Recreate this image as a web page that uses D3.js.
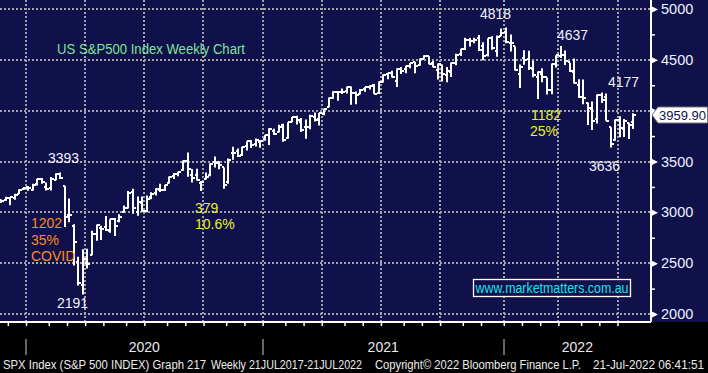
<!DOCTYPE html>
<html>
<head>
<meta charset="utf-8">
<script src="https://cdnjs.cloudflare.com/ajax/libs/d3/7.8.5/d3.min.js"></script>
<style>
  body { margin: 0; background: #000; }
  svg { display: block; }
</style>
</head>
<body>
<div id="chart"></div>
<script>
// weekly bars, first bar = week ending 22 Nov 2019, last = partial week to 20 Jul 2022
const firstWeek = new Date(2019, 10, 22);

const opens = [
  3122, 3117, 3143, 3141, 3183, 3225,
  // 2020
  3247, 3218, 3274, 3323, 3248, 3235, 3318, 3380, 3258, 2974, 2863, 2508, 2290,
  2498, 2578, 2782, 2846, 2854, 2815, 2937, 2914, 3005, 3038, 3199, 3000, 3095,
  3018, 3155, 3191, 3224, 3219, 3289, 3356, 3380, 3419, 3507, 3370, 3364, 3285,
  3326, 3367, 3500, 3493, 3441, 3296, 3583, 3600, 3566, 3654, 3698, 3675, 3694,
  // 2021
  3723, 3764, 3803, 3788, 3857, 3731, 3892, 3939, 3886, 3842, 3844, 3940, 3916,
  3969, 4034, 4124, 4183, 4185, 4192, 4228, 4169, 4168, 4216, 4229, 4248, 4174,
  4284, 4356, 4373, 4296, 4410, 4407, 4437, 4474, 4450, 4513, 4535, 4469, 4402,
  4450, 4348, 4385, 4471, 4553, 4610, 4697, 4689, 4712, 4640, 4548, 4710, 4587, 4733,
  // 2022
  4778, 4665, 4632, 4357, 4519, 4505, 4412, 4333, 4363, 4329, 4203, 4462, 4541,
  4548, 4474, 4385, 4255, 4131, 4076, 4013, 3919, 4152, 4134, 3838, 3715, 3913,
  3816, 3880, 3884
];
const highs = [
  3127, 3154, 3150, 3182, 3226, 3248,
  3259, 3282, 3330, 3337, 3293, 3347, 3385, 3393, 3260, 3136, 2882, 2563, 2637,
  2641, 2818, 2880, 2868, 2965, 2932, 2945, 2981, 3068, 3211, 3233, 3156, 3155,
  3165, 3198, 3238, 3280, 3272, 3352, 3387, 3399, 3509, 3588, 3426, 3429, 3308,
  3393, 3482, 3550, 3502, 3441, 3529, 3646, 3628, 3644, 3699, 3712, 3726, 3712,
  3760, 3827, 3823, 3861, 3871, 3887, 3937, 3950, 3928, 3914, 3960, 3983, 3978,
  4020, 4130, 4191, 4194, 4218, 4238, 4237, 4188, 4214, 4234, 4249, 4262, 4286,
  4356, 4372, 4393, 4415, 4429, 4441, 4469, 4480, 4513, 4545, 4536, 4488, 4465,
  4455, 4429, 4475, 4560, 4608, 4718, 4714, 4718, 4744, 4672, 4713, 4731, 4740, 4808,
  4818, 4749, 4632, 4453, 4595, 4590, 4490, 4385, 4416, 4327, 4465, 4546, 4637,
  4593, 4471, 4513, 4308, 4307, 4081, 4090, 4158, 4178, 4169, 3838, 3914, 3946,
  3919, 3881, 3974
];
const lows = [
  3091, 3115, 3070, 3124, 3180, 3222,
  3213, 3214, 3264, 3280, 3214, 3214, 3316, 3328, 2855, 2902, 2478, 2281, 2192,
  2447, 2579, 2721, 2727, 2816, 2798, 2767, 2902, 2999, 3038, 2985, 2966, 3007,
  3000, 3128, 3165, 3200, 3209, 3284, 3329, 3354, 3410, 3349, 3294, 3313, 3209,
  3323, 3354, 3441, 3424, 3233, 3280, 3518, 3544, 3555, 3609, 3633, 3648, 3636,
  3703, 3663, 3760, 3785, 3694, 3725, 3885, 3865, 3789, 3723, 3817, 3894, 3853,
  3955, 4034, 4118, 4098, 4164, 4168, 4057, 4062, 4158, 4185, 4208, 4165, 4165,
  4278, 4309, 4327, 4234, 4360, 4368, 4417, 4367, 4442, 4511, 4456, 4427, 4306,
  4288, 4279, 4330, 4447, 4537, 4596, 4630, 4662, 4586, 4495, 4532, 4600, 4531, 4733,
  4662, 4582, 4395, 4222, 4451, 4401, 4328, 4115, 4279, 4158, 4161, 4424, 4517,
  4450, 4381, 4267, 4124, 4062, 3859, 3810, 3875, 4075, 3901, 3637, 3703, 3739,
  3742, 3722, 3819
];
const closes = [
  3110, 3141, 3146, 3169, 3221, 3240,
  3235, 3265, 3330, 3295, 3226, 3328, 3380, 3338, 2954, 2972, 2711, 2305, 2541,
  2489, 2790, 2875, 2837, 2831, 2930, 2864, 2955, 3044, 3194, 3041, 3098, 3009,
  3130, 3185, 3225, 3216, 3271, 3351, 3373, 3397, 3508, 3427, 3341, 3319, 3298,
  3348, 3477, 3484, 3465, 3270, 3510, 3585, 3558, 3638, 3699, 3663, 3709, 3703,
  3756, 3824, 3768, 3841, 3714, 3887, 3934, 3907, 3811, 3842, 3943, 3913, 3975,
  4020, 4129, 4185, 4180, 4181, 4233, 4174, 4156, 4204, 4230, 4247, 4166, 4281,
  4352, 4370, 4327, 4412, 4395, 4437, 4468, 4442, 4509, 4535, 4458, 4432, 4455,
  4357, 4391, 4471, 4545, 4605, 4697, 4682, 4698, 4595, 4538, 4712, 4620, 4726, 4766,
  4677, 4663, 4398, 4432, 4500, 4419, 4349, 4385, 4329, 4204, 4463, 4543, 4546,
  4488, 4393, 4272, 4132, 4123, 4024, 3901, 4158, 4109, 3901, 3675, 3912, 3825,
  3899, 3863, 3959.90
];
const lastPrice = "3959.90";

const yTicks = [2000, 2500, 3000, 3500, 4000, 4500, 5000];
const yMinorTicks = [2250, 2750, 3250, 3750, 4250, 4750];

const notes = [
  { text: "US S&P500 Index Weekly Chart", x: 57, y: 54, color: "#7fe39a", w: 188 },
  { text: "3393", x: 48, y: 163, color: "#eef0ff" },
  { text: "1202", x: 31, y: 228, color: "#ff8a1c" },
  { text: "35%", x: 31, y: 245, color: "#ff8a1c" },
  { text: "COVID", x: 31, y: 261, color: "#ff8a1c" },
  { text: "2191", x: 57, y: 308, color: "#eef0ff" },
  { text: "379", x: 195, y: 213, color: "#e8f02a" },
  { text: "10.6%", x: 195, y: 229, color: "#e8f02a" },
  { text: "4818", x: 480, y: 19, color: "#eef0ff" },
  { text: "4637", x: 557, y: 40, color: "#eef0ff" },
  { text: "4177", x: 608, y: 87, color: "#eef0ff" },
  { text: "1182", x: 531, y: 120, color: "#e8f02a" },
  { text: "25%", x: 530, y: 136, color: "#e8f02a" },
  { text: "3636", x: 589, y: 171, color: "#eef0ff" }
];

const footer = [
  { text: "SPX Index (S&P 500 INDEX) Graph 217", x: 3, w: 203 },
  { text: "Weekly 21JUL2017-21JUL2022", x: 211, w: 151 },
  { text: "Copyright\u00a9 2022 Bloomberg Finance L.P.", x: 375, w: 206 },
  { text: "21-Jul-2022 06:41:51", x: 593, w: 111 }
];

const width = 708, height = 373;
const plotRight = 651, plotBottom = 322;
const navy = "#10104a";
const font = "'Liberation Sans', Arial, sans-serif";

const bars = opens.map((o, i) => ({
  date: d3.timeWeek.offset(firstWeek, i),
  open: o, high: highs[i], low: lows[i], close: closes[i]
}));

const x = d3.scaleLinear().domain([0, bars.length - 1]).range([1, 1 + (bars.length - 1) * 4.55]);
const y = d3.scaleLinear().domain([2000, 5000]).range([314, 9]);

// month boundaries sit half a bar before the first week of each month
const monthEdges = [];
bars.forEach((b, i) => {
  if (i > 0 && b.date.getMonth() !== bars[i - 1].date.getMonth()) {
    monthEdges.push({ pos: i - 0.5, month: b.date.getMonth(), year: b.date.getFullYear() });
  }
});
const quarterEdges = monthEdges.filter(d => d.month % 3 === 0);
const yearEdges = monthEdges.filter(d => d.month === 0);

const svg = d3.select("#chart").append("svg")
  .attr("width", width)
  .attr("height", height);

svg.append("rect").attr("width", width).attr("height", height).attr("fill", "#000");
svg.append("rect").attr("width", width).attr("height", plotBottom).attr("fill", navy);

// grid
const grid = svg.append("g")
  .attr("stroke", "#a3a3a8")
  .attr("stroke-width", 2)
  .attr("stroke-dasharray", "2,2");
grid.selectAll(".h").data(yTicks).join("line")
  .attr("x1", 0).attr("x2", plotRight)
  .attr("y1", d => Math.round(y(d))).attr("y2", d => Math.round(y(d)));
grid.selectAll(".v").data(quarterEdges).join("line")
  .attr("x1", d => Math.round(x(d.pos))).attr("x2", d => Math.round(x(d.pos)))
  .attr("y1", 0).attr("y2", plotBottom);

// OHLC bars
const ohlc = svg.append("g")
  .attr("stroke", "#fff")
  .attr("stroke-width", 2)
  .attr("fill", "none");
ohlc.selectAll("path").data(bars).join("path")
  .attr("d", (d, i) => {
    const cx = Math.round(x(i));
    const yo = Math.round(y(d.open)), yc = Math.round(y(d.close));
    return `M${cx},${y(d.high)}V${y(d.low)}M${cx - 2},${yo}H${cx}M${cx},${yc}H${cx + 3}`;
  });

// annotations
svg.append("g").selectAll("text").data(notes).join("text")
  .attr("x", d => d.x).attr("y", d => d.y)
  .attr("fill", d => d.color)
  .attr("font-family", font)
  .attr("font-size", 14)
  .attr("textLength", d => d.w || null)
  .attr("lengthAdjust", "spacingAndGlyphs")
  .text(d => d.text);

// watermark
svg.append("rect")
  .attr("x", 473.5).attr("y", 279.5).attr("width", 157).attr("height", 17)
  .attr("fill", navy).attr("stroke", "#fff").attr("stroke-width", 1.3);
svg.append("text")
  .attr("x", 552).attr("y", 293)
  .attr("text-anchor", "middle")
  .attr("fill", "#22e0ea")
  .attr("font-family", font)
  .attr("font-size", 14)
  .attr("textLength", 153)
  .attr("lengthAdjust", "spacingAndGlyphs")
  .text("www.marketmatters.com.au");

// right axis
svg.append("line")
  .attr("x1", plotRight).attr("x2", plotRight).attr("y1", 0).attr("y2", plotBottom)
  .attr("stroke", "#fff").attr("stroke-width", 2);

// the 4000 label sits under the last-price tag, so it gets no text
const yAxis = svg.append("g")
  .attr("transform", `translate(${plotRight},0)`)
  .call(d3.axisRight(y).tickValues(yTicks).tickSize(0).tickPadding(10)
    .tickFormat(d => d === 4000 ? "" : d3.format("d")(d)));
yAxis.select(".domain").remove();
yAxis.selectAll("text")
  .attr("fill", "#eef0ff")
  .attr("font-family", font)
  .attr("font-size", 14.5);
yAxis.selectAll(".tick").append("path")
  .attr("d", "M0,-3.5L7,0L0,3.5Z")
  .attr("fill", "#fff");

const yMinor = svg.append("g")
  .attr("transform", `translate(${plotRight},0)`)
  .call(d3.axisRight(y).tickValues(yMinorTicks).tickSize(4).tickFormat(""));
yMinor.select(".domain").remove();
yMinor.selectAll("line").attr("stroke", "#fff").attr("stroke-width", 1.5);

// bottom axis
svg.append("line")
  .attr("x1", 0).attr("x2", plotRight).attr("y1", plotBottom).attr("y2", plotBottom)
  .attr("stroke", "#fff").attr("stroke-width", 2);
const xAxis = svg.append("g")
  .attr("transform", `translate(0,${plotBottom})`)
  .call(d3.axisBottom(x).tickValues(monthEdges.map(d => d.pos)).tickSize(4).tickFormat(""));
xAxis.select(".domain").remove();
xAxis.selectAll("line").attr("stroke", "#fff").attr("stroke-width", 1.5);

// year separators and labels
svg.append("g").selectAll("line").data(yearEdges).join("line")
  .attr("x1", d => Math.round(x(d.pos))).attr("x2", d => Math.round(x(d.pos)))
  .attr("y1", 339).attr("y2", 355)
  .attr("stroke", "#8a8a8a").attr("stroke-width", 1.5);

const yearSpans = yearEdges.map((d, i) => {
  const x0 = x(d.pos);
  const x1 = i < yearEdges.length - 1 ? x(yearEdges[i + 1].pos) : plotRight;
  return { year: d.year, cx: (x0 + x1) / 2 };
});
svg.append("g").selectAll("text").data(yearSpans).join("text")
  .attr("x", d => d.cx).attr("y", 352)
  .attr("text-anchor", "middle")
  .attr("fill", "#e8e8f0")
  .attr("font-family", font)
  .attr("font-size", 14)
  .text(d => d.year);

// footer
svg.append("g").selectAll("text").data(footer).join("text")
  .attr("x", d => d.x).attr("y", 369)
  .attr("fill", "#ececec")
  .attr("font-family", font)
  .attr("font-size", 12)
  .attr("textLength", d => d.w)
  .attr("lengthAdjust", "spacingAndGlyphs")
  .text(d => d.text);

// last price tag
const py = Math.round(y(closes[closes.length - 1]));
svg.append("path")
  .attr("d", `M652,${py}L658,${py - 8}H707.5V${py + 8}H658Z`)
  .attr("fill", "#fff")
  .attr("stroke", "#777")
  .attr("stroke-width", 1);
svg.append("text")
  .attr("x", 659).attr("y", py + 5)
  .attr("fill", "#10104a")
  .attr("font-family", font)
  .attr("font-size", 13)
  .text(lastPrice);
</script>
</body>
</html>
